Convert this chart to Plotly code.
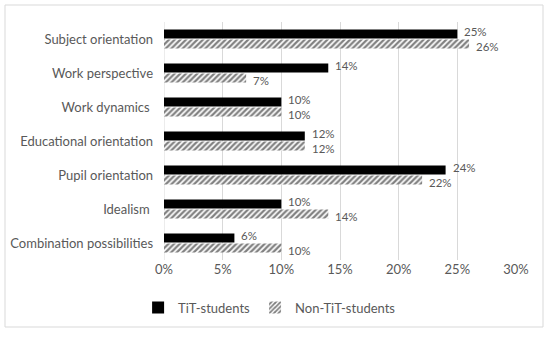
import plotly.graph_objects as go

categories = ["Subject orientation", "Work perspective", "Work dynamics ", "Educational orientation",
              "Pupil orientation", "Idealism ", "Combination possibilities"]
tit_students = [25, 14, 10, 12, 24, 10, 6]
non_tit_students = [26, 7, 10, 12, 22, 14, 10]
x_ticks = [0, 5, 10, 15, 20, 25, 30]
x_tick_labels = ["0%", "5%", "10%", "15%", "20%", "25%", "30%"]

GRAY = "#595959"
FONT = "Lato, Carlito, 'Open Sans', sans-serif"

fig = go.Figure()
fig.add_trace(go.Bar(
    y=categories, x=tit_students, orientation="h", name="TiT-students",
    marker=dict(color="black", line=dict(width=0)),
))
fig.add_trace(go.Bar(
    y=categories, x=non_tit_students, orientation="h", name="Non-TiT-students",
    marker=dict(color="white", line=dict(width=0),
                pattern=dict(shape="/", fgcolor="black", bgcolor="white", size=4, solidity=0.55)),
))

annotations = []
for cat, v in zip(categories, tit_students):
    annotations.append(dict(x=v, y=cat, xref="x", yref="y", text=f"{v}%", showarrow=False,
                            xanchor="left", yanchor="middle", xshift=5, yshift=7.5,
                            font=dict(size=11.5, color=GRAY, family=FONT)))
for cat, v in zip(categories, non_tit_students):
    annotations.append(dict(x=v, y=cat, xref="x", yref="y", text=f"{v}%", showarrow=False,
                            xanchor="left", yanchor="middle", xshift=5, yshift=-7.5,
                            font=dict(size=11.5, color=GRAY, family=FONT)))

fig.update_layout(
    width=550, height=337,
    margin=dict(l=164, r=34, t=22, b=77),
    paper_bgcolor="white", plot_bgcolor="white",
    barmode="group", bargap=0.42, bargroupgap=0.08,
    font=dict(family=FONT, color=GRAY, size=13),
    showlegend=True,
    annotations=annotations,
    legend=dict(orientation="h", x=0.30, xanchor="center", y=-0.2, yanchor="middle",
                font=dict(size=13, color=GRAY), traceorder="normal", itemwidth=30),
    xaxis=dict(range=[0, 30], tickvals=x_ticks, ticktext=x_tick_labels, automargin=False,
               showgrid=True, gridcolor="#d9d9d9", gridwidth=1, zeroline=False,
               showline=False, ticks="", tickfont=dict(size=13, color=GRAY)),
    yaxis=dict(autorange="reversed", showgrid=False, zeroline=False, showline=False, automargin=False,
               ticks="", ticksuffix="   ", tickfont=dict(size=13, color=GRAY)),
    shapes=[dict(type="rect", xref="paper", yref="paper",
                 x0=(5 - 164) / 352, x1=(543 - 164) / 352,
                 y0=(260 - 327) / 238, y1=(260 - 5) / 238,
                 line=dict(color="#d9d9d9", width=1), fillcolor="rgba(0,0,0,0)", layer="below")],
)
fig.add_shape(type="line", xref="x", yref="paper", x0=0, x1=0, y0=0, y1=1,
              line=dict(color="#d9d9d9", width=1), layer="below")

fig.write_html("out.html", config={"displayModeBar": False},
               post_script="document.body.style.margin='0';document.body.style.overflow='hidden';")
